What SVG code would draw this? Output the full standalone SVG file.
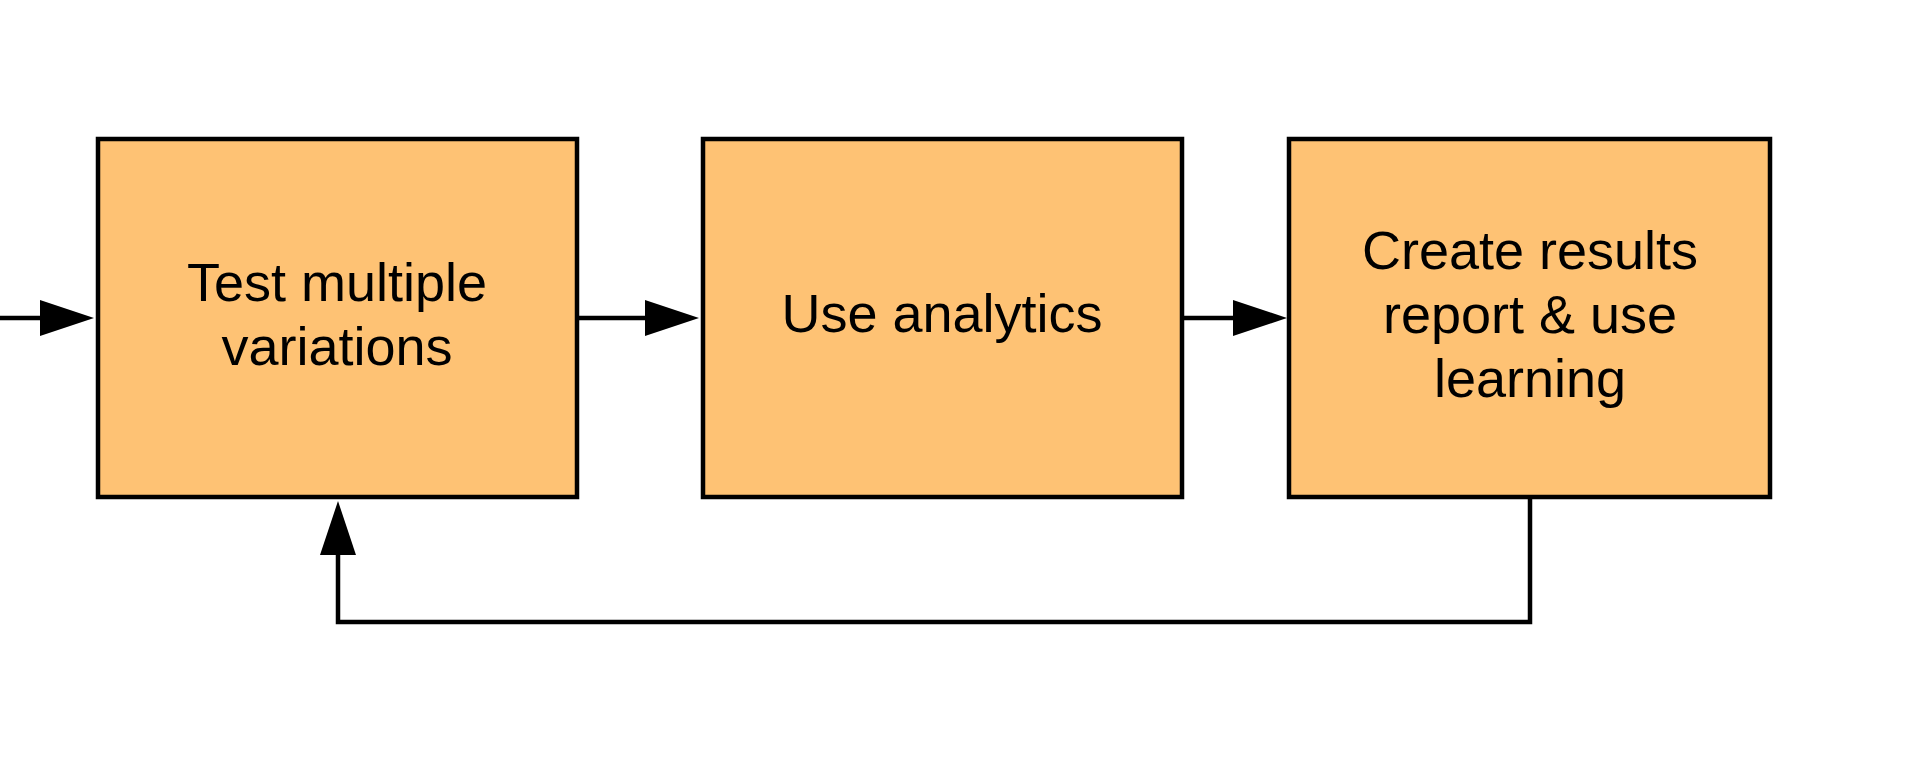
<svg xmlns="http://www.w3.org/2000/svg" width="1920" height="770" viewBox="0 0 1920 770">
  <style>
    .box { fill: #FEC274; stroke: #000; stroke-width: 4.5; }
    .lbl { font-family: "Liberation Sans", Arial, sans-serif; font-size: 54px; fill: #000; text-anchor: middle; }
    .conn { fill: none; stroke: #000; stroke-width: 4.5; }
  </style>
  <defs>
    <marker id="arrow" markerUnits="userSpaceOnUse" markerWidth="54" markerHeight="36" viewBox="0 0 54 36" refX="12" refY="18" orient="auto">
      <path d="M0,0 L54,18 L0,36 z" fill="#000"/>
    </marker>
  </defs>
  <rect width="1920" height="770" fill="#fff"/>
  <g id="connectors">
    <path class="conn" d="M0,318 L52,318" marker-end="url(#arrow)"/>
    <path class="conn" d="M578,318 L657,318" marker-end="url(#arrow)"/>
    <path class="conn" d="M1183,318 L1245,318" marker-end="url(#arrow)"/>
    <path class="conn" d="M1530,499 L1530,622 L338,622 L338,543" marker-end="url(#arrow)"/>
  </g>
  <g id="node-test">
    <rect class="box" x="98" y="139" width="479" height="358"/>
    <text class="lbl" x="337" y="301">Test multiple</text>
    <text class="lbl" x="337" y="365">variations</text>
  </g>
  <g id="node-analytics">
    <rect class="box" x="703" y="139" width="479" height="358"/>
    <text class="lbl" x="942" y="332">Use analytics</text>
  </g>
  <g id="node-report">
    <rect class="box" x="1289" y="139" width="481" height="358"/>
    <text class="lbl" x="1530" y="269">Create results</text>
    <text class="lbl" x="1530" y="333">report &amp; use</text>
    <text class="lbl" x="1530" y="397">learning</text>
  </g>
</svg>
